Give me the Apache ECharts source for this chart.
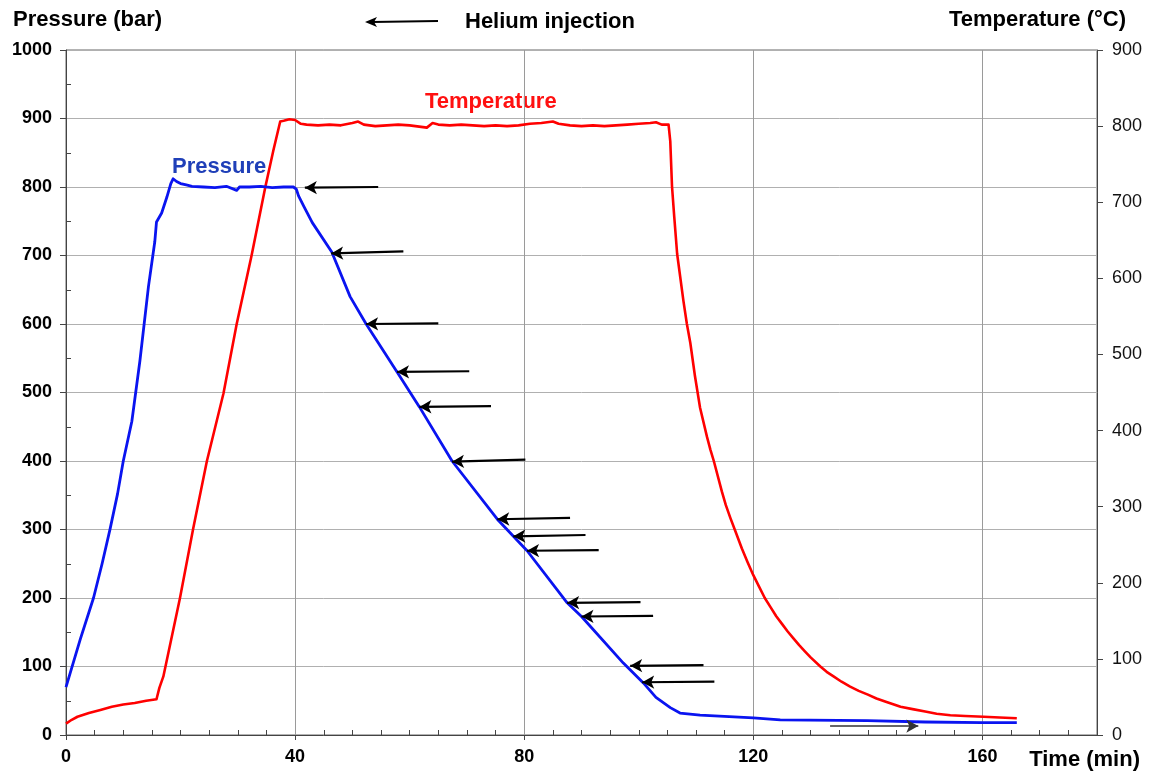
<!DOCTYPE html>
<html>
<head>
<meta charset="utf-8">
<script src="https://cdn.jsdelivr.net/npm/echarts@6/dist/echarts.min.js"></script>
<style>
  html, body { margin: 0; background: #fff; }
  #chart { width: 1153px; height: 771px; }
</style>
</head>
<body>
<div id="chart"></div>
<script>
// pressure (bar), left axis
const pressureTime = [0, 1, 2.5, 4.8, 6.3, 7.7, 9, 10.0, 11.5, 12.9, 14.4, 15.5, 15.8, 16.7, 17.6, 18.3, 18.7, 19.3, 20, 21, 22, 24, 26, 28, 29.8, 30.3, 32, 34, 36, 38, 39.7, 40.2, 40.6, 41.5, 43, 46.4, 49.6, 52.4, 57.8, 61.7, 67.4, 75.3, 80.5, 87.5, 90, 97.3, 100.8, 103, 105.5, 107.2, 110.7, 120, 124.7, 139.9, 150, 160, 166];
const pressureBar = [70, 98, 140, 200, 250, 301, 352, 400, 458, 546, 655, 720, 749, 762, 785, 805, 812, 808, 805, 803, 801, 800, 799, 801, 795, 800, 800, 801, 799, 800, 800, 797, 787, 772, 748, 705, 640, 600, 530, 479, 400, 315, 269, 193, 173, 105, 76, 55, 40, 32, 29, 25, 22, 21, 19, 18, 18];

// temperature (°C), right axis
const tempTime = [0, 1, 2, 4, 6, 8, 10, 12, 14, 15.8, 16.3, 17, 19.9, 22.2, 24.6, 27.5, 29.8, 32.4, 34.8, 36.2, 37.4, 38, 39, 40, 41, 42, 44, 46, 48, 50, 51, 52, 54, 56, 58, 60, 62, 63, 64, 65, 67, 69, 71, 73, 75, 77, 79, 81, 83, 85, 86, 88, 90, 92, 94, 96, 98, 100, 102, 103, 104, 105.2, 105.5, 105.8, 106.2, 106.7, 107.8, 108.4, 109, 109.8, 110.7, 111.9, 112.5, 113.1, 114.5, 115.2, 116, 117, 118, 119, 120, 121, 122, 123, 124, 125, 126, 127, 128, 129, 130, 131.7, 132.8, 134, 135.4, 136.9, 138.4, 140, 141.5, 143, 145.7, 147.8, 150, 152, 154.4, 157, 160.2, 163, 166];
const tempC = [15, 20, 24, 29, 33, 37, 40, 42, 45, 47, 62, 77, 180, 271, 360, 449, 540, 630, 720, 768, 806, 807, 809, 808, 803, 802, 801, 802, 801, 804, 806, 802, 800, 801, 802, 801, 799, 798, 804, 802, 801, 802, 801, 800, 801, 800, 801, 803, 804, 806, 803, 801, 800, 801, 800, 801, 802, 803, 804, 805, 802, 802, 780, 721, 680, 632, 570, 540, 515, 472, 430, 392, 375, 360, 320, 302, 285, 265, 245, 227, 210, 195, 180, 168, 156, 146, 136, 127, 118, 110, 102, 90, 83, 77, 70, 63.5, 58, 53, 48, 44, 37, 34, 31, 28, 26, 25, 24, 23, 22];

// helium injection arrows (head -> tail), pressure units
const arrowHeadTime = [41.7, 46.3, 52.4, 57.8, 61.7, 67.4, 75.3, 78.1, 80.5, 87.5, 90.0, 98.5, 100.6];
const arrowTailTime = [54.5, 58.9, 65.0, 70.4, 74.2, 80.2, 88.0, 90.7, 93.0, 100.3, 102.5, 111.3, 113.2];
const arrowHeadP = [799, 703, 600, 530, 479, 399, 315, 290, 269, 193, 173, 101, 77];
const arrowTailP = [800, 706, 601, 531, 480, 402, 317, 292, 270, 194, 174, 102, 78];
// release arrow near the bottom (tail -> head)
const ventTime = [133.4, 148.8];
const ventP = [13, 13];

const xTicks = [0, 40, 80, 120, 160];

const FONT = "'Liberation Sans', Arial, sans-serif";

const pressureData = pressureTime.map((t, i) => [t, pressureBar[i]]);
const tempData = tempTime.map((t, i) => [t, tempC[i]]);

const arrowLines = arrowHeadTime.map((t, i) => [
  { coord: [t, arrowHeadP[i]], symbol: 'arrow' },
  { coord: [arrowTailTime[i], arrowTailP[i]], symbol: 'none' }
]);
arrowLines.push([
  { coord: [ventTime[0], ventP[0]], symbol: 'none', lineStyle: { width: 1.5, color: '#333' } },
  { coord: [ventTime[1], ventP[1]], symbol: 'arrow' }
]);

const chart = echarts.init(document.getElementById('chart'));

chart.setOption({
  animation: false,
  backgroundColor: '#fff',
  grid: {
    left: 66, right: 56, top: 50, bottom: 36,
    show: true, borderColor: '#666', borderWidth: 1
  },
  xAxis: [
    {
      type: 'value', min: 0, max: 180, interval: 40,
      axisLine: { show: true, lineStyle: { color: '#444', width: 1 } },
      axisTick: { show: true, length: 5, lineStyle: { color: '#444' } },
      axisLabel: {
        showMaxLabel: false, margin: 13, color: '#000',
        fontFamily: FONT, fontSize: 18, fontWeight: 'bold',
        formatter: v => (xTicks.includes(v) ? String(v) : '')
      },
      splitLine: { show: true, lineStyle: { color: '#9a9a9a', width: 1 } }
    },
    {
      // minor ticks, drawn inwards
      type: 'value', min: 0, max: 180, interval: 40, position: 'bottom',
      axisLine: { show: false },
      axisTick: { show: true, inside: true, length: 0.01, lineStyle: { opacity: 0 } },
      axisLabel: { show: false },
      splitLine: { show: false },
      minorTick: { show: true, splitNumber: 8, length: 5, lineStyle: { color: '#444' } }
    }
  ],
  yAxis: [
    {
      type: 'value', min: 0, max: 1000, interval: 100, position: 'left',
      axisLine: { show: true, lineStyle: { color: '#444', width: 1 } },
      axisTick: { show: true, length: 6, lineStyle: { color: '#444' } },
      axisLabel: {
        margin: 14, color: '#000',
        fontFamily: FONT, fontSize: 18, fontWeight: 'bold',
        formatter: v => String(v)
      },
      splitLine: { show: true, lineStyle: { color: '#b0b0b0', width: 1 } }
    },
    {
      type: 'value', min: 0, max: 1000, interval: 100, position: 'left',
      axisLine: { show: false },
      axisTick: { show: true, inside: true, length: 0.01, lineStyle: { opacity: 0 } },
      axisLabel: { show: false },
      splitLine: { show: false },
      minorTick: { show: true, splitNumber: 2, length: 5, lineStyle: { color: '#444' } }
    },
    {
      type: 'value', min: 0, max: 900, interval: 100, position: 'right',
      axisLine: { show: true, lineStyle: { color: '#444', width: 1 } },
      axisTick: { show: true, length: 6, lineStyle: { color: '#444' } },
      axisLabel: {
        margin: 15, color: '#111',
        fontFamily: FONT, fontSize: 18
      },
      splitLine: { show: false }
    }
  ],
  series: [
    {
      name: 'Temperature',
      type: 'line',
      xAxisIndex: 0,
      yAxisIndex: 2,
      data: tempData,
      showSymbol: false,
      lineStyle: { color: '#ff0000', width: 2.6, join: 'round' },
      z: 3
    },
    {
      name: 'Pressure',
      type: 'line',
      xAxisIndex: 0,
      yAxisIndex: 0,
      data: pressureData,
      showSymbol: false,
      lineStyle: { color: '#0a14f0', width: 2.8, join: 'round' },
      z: 4,
      markLine: {
        silent: true,
        symbolSize: [10, 12],
        label: { show: false },
        lineStyle: { color: '#000', width: 2.2, type: 'solid' },
        emphasis: { disabled: true },
        data: arrowLines
      }
    }
  ],
  graphic: [
    {
      type: 'text', x: 13, y: 20,
      style: { text: 'Pressure (bar)', font: `bold 22px ${FONT}`, fill: '#000', textVerticalAlign: 'middle' }
    },
    {
      type: 'text', x: 1126, y: 20,
      style: { text: 'Temperature (°C)', font: `bold 22px ${FONT}`, fill: '#000', textAlign: 'right', textVerticalAlign: 'middle' }
    },
    {
      type: 'text', x: 465, y: 22,
      style: { text: 'Helium injection', font: `bold 22px ${FONT}`, fill: '#000', textVerticalAlign: 'middle' }
    },
    {
      type: 'line',
      shape: { x1: 438, y1: 21, x2: 372, y2: 22 },
      style: { stroke: '#000', lineWidth: 2.2 }
    },
    {
      type: 'polygon',
      shape: { points: [[365, 22], [377, 17], [374, 22], [377, 27]] },
      style: { fill: '#000' }
    },
    {
      type: 'text', x: 1140, y: 760,
      style: { text: 'Time (min)', font: `bold 22px ${FONT}`, fill: '#000', textAlign: 'right', textVerticalAlign: 'middle' }
    },
    {
      type: 'text', x: 172, y: 167,
      style: { text: 'Pressure', font: `bold 22px ${FONT}`, fill: '#1f3fb8', textVerticalAlign: 'middle' }
    },
    {
      type: 'text', x: 425, y: 102,
      style: { text: 'Temperature', font: `bold 22px ${FONT}`, fill: '#ff1010', textVerticalAlign: 'middle' }
    }
  ]
});
</script>
</body>
</html>
